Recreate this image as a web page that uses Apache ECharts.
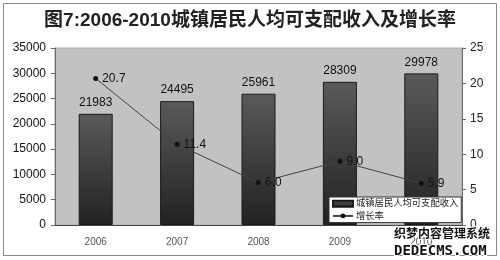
<!DOCTYPE html>
<html><head><meta charset="utf-8">
<script src="https://cdn.jsdelivr.net/npm/echarts@6/dist/echarts.min.js"></script>
<style>html,body{margin:0;padding:0;background:#fff}#c{width:500px;height:260px}</style>
</head><body><div id="c"></div>
<script>
var titleText = '图7:2006-2010城镇居民人均可支配收入及增长率';
var years = ['2006','2007','2008','2009','2010'];
var income = [21983, 24495, 25961, 28309, 29978];
var growth = [20.7, 11.4, 6.0, 9.0, 5.9];
var incomeName = '城镇居民人均可支配收入';
var growthName = '增长率';

var chart = echarts.init(document.getElementById('c'));
var ff = '"Liberation Sans", Arial, "Noto Sans CJK SC", sans-serif';
chart.setOption({
  animation: false,
  backgroundColor: '#fff',
  textStyle: {fontFamily: ff},
  title: {text: titleText, left: 'center', top: 6,
    textStyle: {fontSize: 19, fontWeight: 'bold', color: '#222', fontFamily: ff}},
  grid: {left: 55, right: 38, top: 48, bottom: 35, show: true,
    backgroundColor: '#c2c2c2', borderColor: '#aaa', borderWidth: 1},
  legend: {
    left: 329, top: 197, orient: 'vertical', itemGap: 3, padding: [2, 3, 2, 3],
    backgroundColor: '#fff', borderColor: '#333', borderWidth: 1,
    itemWidth: 20, itemHeight: 6,
    textStyle: {fontSize: 9.3, color: '#222', fontFamily: ff, padding: [0,0,0,-2]},
    data: [{name: incomeName, icon: 'rect'}, {name: growthName}]
  },
  xAxis: {type: 'category', data: years,
    axisLine: {lineStyle: {color: '#444'}},
    axisTick: {inside: true, length: 4, lineStyle: {color: '#444'}},
    axisLabel: {fontSize: 10, color: '#555', margin: 12}},
  yAxis: [
    {type: 'value', min: 0, max: 35000, interval: 5000, position: 'left',
      splitLine: {show: false},
      axisLine: {show: true, lineStyle: {color: '#666'}},
      axisTick: {show: true, length: 4, lineStyle: {color: '#666'}},
      axisLabel: {fontSize: 12, color: '#111', margin: 9,
        formatter: function(v){ return String(v); }}},
    {type: 'value', min: 0, max: 25, interval: 5, position: 'right',
      splitLine: {show: false},
      axisLine: {show: true, lineStyle: {color: '#666'}},
      axisTick: {show: true, length: 4, lineStyle: {color: '#666'}},
      axisLabel: {fontSize: 12, color: '#222', margin: 8}}
  ],
  series: [
    {name: incomeName, type: 'bar', data: income, barWidth: 34, yAxisIndex: 0,
      itemStyle: {color: new echarts.graphic.LinearGradient(0,0,0,1,[
        {offset:0, color:'#5a5a5a'},{offset:1, color:'#222'}]),
        borderColor: '#1a1a1a', borderWidth: 1},
      label: {show: true, position: 'top', fontSize: 12, color: '#111', distance: 5}},
    {name: growthName, type: 'line', data: growth, yAxisIndex: 1,
      lineStyle: {color: '#444', width: 1}, itemStyle: {color: '#111'},
      symbol: 'circle', symbolSize: 5,
      label: {show: true, position: 'right', fontSize: 12, color: '#111', distance: 4,
        formatter: function(p){ return p.value.toFixed(1); }}}
  ],
  graphic: [
    {type: 'rect', shape: {x: 3.5, y: 3.5, width: 493, height: 252},
      style: {fill: null, stroke: '#888', lineWidth: 1}, z: 100},
    {type: 'text', left: 393, top: 226, z: 101,
      style: {text: '织梦内容管理系统', fontSize: 12, fontWeight: 'bold', fill: '#111',
        stroke: '#fff', lineWidth: 2, fontFamily: '"Noto Sans CJK SC", sans-serif'}},
    {type: 'text', left: 393, top: 243, z: 101,
      style: {text: 'DEDECMS.COM', fontSize: 14, fontWeight: 'bold', fill: '#111',
        stroke: '#fff', lineWidth: 2, fontFamily: '"DejaVu Sans Mono", monospace'}}
  ]
});
</script></body></html>
